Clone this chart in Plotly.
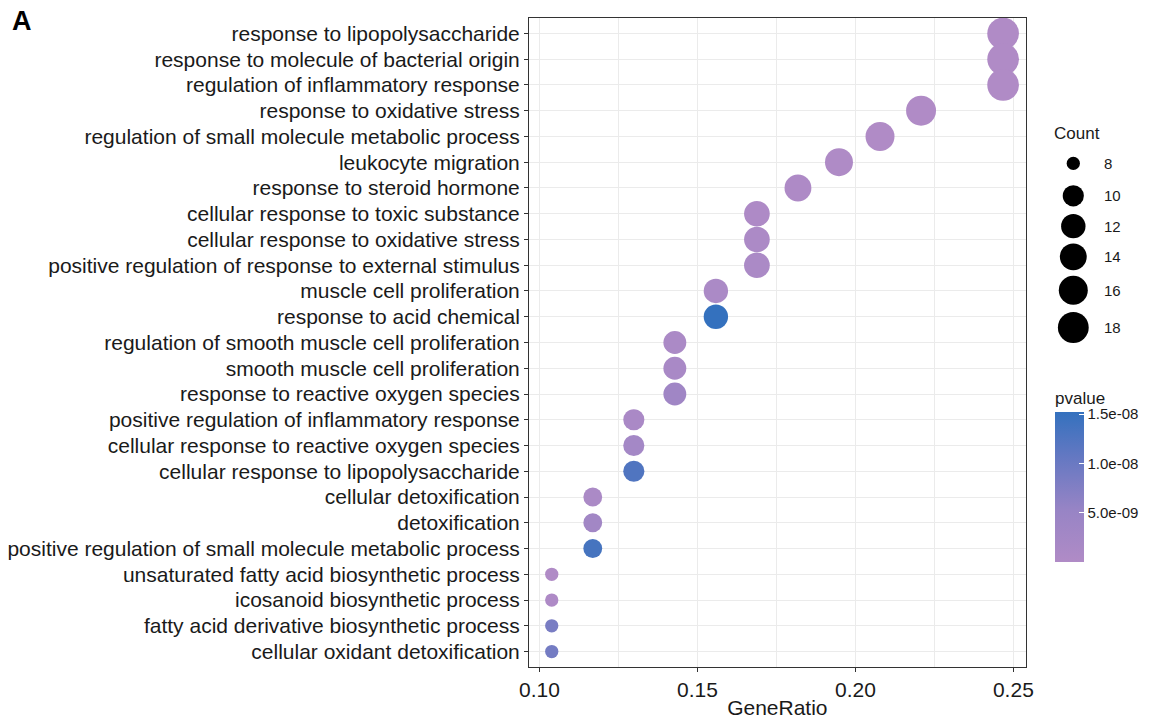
import numpy as np
import plotly.graph_objects as go

terms = [
    "response to lipopolysaccharide",
    "response to molecule of bacterial origin",
    "regulation of inflammatory response",
    "response to oxidative stress",
    "regulation of small molecule metabolic process",
    "leukocyte migration",
    "response to steroid hormone",
    "cellular response to toxic substance",
    "cellular response to oxidative stress",
    "positive regulation of response to external stimulus",
    "muscle cell proliferation",
    "response to acid chemical",
    "regulation of smooth muscle cell proliferation",
    "smooth muscle cell proliferation",
    "response to reactive oxygen species",
    "positive regulation of inflammatory response",
    "cellular response to reactive oxygen species",
    "cellular response to lipopolysaccharide",
    "cellular detoxification",
    "detoxification",
    "positive regulation of small molecule metabolic process",
    "unsaturated fatty acid biosynthetic process",
    "icosanoid biosynthetic process",
    "fatty acid derivative biosynthetic process",
    "cellular oxidant detoxification",
]
counts = [19, 19, 19, 17, 16, 15, 14, 13, 13, 13, 12, 12, 11, 11, 11,
          10, 10, 10, 9, 9, 9, 8, 8, 8, 8]
gene_total = 77
pvalues = [1e-12, 2e-12, 5e-12, 2e-11, 1e-10, 2e-10, 5e-10, 5e-10, 8e-10, 1e-9,
           1e-9, 1.52e-8, 1e-9, 1.5e-9, 3.5e-9,
           1.2e-9, 2.5e-9, 1.25e-8, 1e-9, 3e-9, 1.35e-8,
           4e-11, 5e-10, 8.5e-9, 9e-9]

legend_counts = [8, 10, 12, 14, 16, 18]
cbar_tickvals = [5e-9, 1e-8, 1.5e-8]
cbar_ticktext = ["5.0e-09", "1.0e-08", "1.5e-08"]
x_tickvals = [0.10, 0.15, 0.20, 0.25]
x_ticktext = ["0.10", "0.15", "0.20", "0.25"]

gene_ratio = [c / gene_total for c in counts]

# size scale (ggplot-like area scale)
cmin_c, cmax_c = 8, 19
d_min, d_max = 13.3, 31.7
def size_of(c):
    return d_min + (d_max - d_min) * np.sqrt((c - cmin_c) / (cmax_c - cmin_c))

colorscale = [[0.0, "#B08BC6"], [0.35, "#9784C5"], [0.7, "#6478C2"], [1.0, "#3471BE"]]

W, H = 1151, 719
L, R, T, B = 529, 4, 18, 52.4
plot_w = W - L - R
plot_h = H - T - B
panel_right = 1025.7
xdom = (panel_right - L) / plot_w

def px_x(p):
    return (p - L) / plot_w
def px_y(p):
    return 1 - (p - T) / plot_h

font = "Liberation Sans, Arial, sans-serif"
txt = "#1a1a1a"

fig = go.Figure()
fig.add_trace(go.Scatter(
    x=gene_ratio, y=terms, mode="markers",
    marker=dict(
        size=[size_of(c) for c in counts],
        color=pvalues, colorscale=colorscale,
        cmin=min(pvalues), cmax=max(pvalues),
        line=dict(width=0), opacity=1,
        colorbar=dict(
            title=dict(text="pvalue", side="top", font=dict(size=17, color=txt, family=font)),
            xref="paper", x=px_x(1055), xanchor="left",
            yref="paper", y=px_y(388), yanchor="top",
            thicknessmode="pixels", thickness=29,
            lenmode="pixels", len=173.7,
            outlinewidth=0,
            tickvals=cbar_tickvals, ticktext=cbar_ticktext,
            ticks="inside", tickcolor="white", ticklen=5,
            tickfont=dict(size=15, color=txt, family=font),
            xpad=0, ypad=0,
        ),
    ),
    showlegend=False, hoverinfo="x+y",
    xaxis="x", yaxis="y",
))

# Count legend (size legend) on an overlay axis in pixel units
leg_y = [163.3, 195.7, 226, 256.7, 290, 327.3]
leg_x = 1073.3
fig.add_trace(go.Scatter(
    x=[leg_x] * len(legend_counts), y=leg_y, mode="markers",
    marker=dict(size=[size_of(c) for c in legend_counts], color="#000000",
                opacity=1, line=dict(width=0)),
    showlegend=False, hoverinfo="skip",
    xaxis="x2", yaxis="y2",
))

annotations = []
for c, yy in zip(legend_counts, leg_y):
    annotations.append(dict(
        x=1101.7, y=yy, xref="x2", yref="y2", text=str(c), showarrow=False,
        xanchor="left", yanchor="middle", font=dict(size=15, color=txt, family=font)))
annotations.append(dict(
    x=1052, y=133, xref="x2", yref="y2", text="Count", showarrow=False,
    xanchor="left", yanchor="middle", font=dict(size=17, color=txt, family=font)))
annotations.append(dict(
    x=px_x(10), y=px_y(21), xref="paper", yref="paper", text="<b>A</b>", showarrow=False,
    xanchor="left", yanchor="middle", font=dict(size=27, color="black", family=font)))

fig.update_layout(
    width=W, height=H,
    margin=dict(l=L, r=R, t=T, b=B, pad=0, autoexpand=False),
    paper_bgcolor="white", plot_bgcolor="white",
    font=dict(family=font, color=txt),
    xaxis=dict(
        domain=[0, xdom], range=[0.0967, 0.2539],
        tickvals=x_tickvals, ticktext=x_ticktext,
        ticks="outside", ticklen=4, tickcolor="#333333", tickwidth=1,
        tickfont=dict(size=21, color=txt),
        showgrid=True, gridcolor="#EBEBEB", gridwidth=1,
        minor=dict(tickvals=[0.125, 0.175, 0.225], showgrid=True, gridcolor="#EBEBEB", gridwidth=1, ticks=""),
        showline=True, linecolor="#333333", linewidth=1, mirror=True,
        zeroline=False, automargin=False,
        title=dict(text="GeneRatio", font=dict(size=21, color=txt), standoff=2),
    ),
    yaxis=dict(
        categoryorder="array", categoryarray=terms[::-1],
        range=[-0.6, len(terms) - 0.4],
        ticks="outside", ticklen=4, tickcolor="#333333", tickwidth=1,
        tickfont=dict(size=21, color=txt),
        showgrid=True, gridcolor="#EBEBEB", gridwidth=1,
        showline=True, linecolor="#333333", linewidth=1, mirror=True,
        zeroline=False, automargin=False,
    ),
    xaxis2=dict(domain=[xdom, 1], range=[panel_right, W - R], visible=False, fixedrange=True),
    yaxis2=dict(domain=[0, 1], range=[H - B, T], visible=False, anchor="x2", fixedrange=True),
    annotations=annotations,
)

fig.write_html("out.html", config={"displayModeBar": False},
               post_script="document.body.style.margin='0px';")
